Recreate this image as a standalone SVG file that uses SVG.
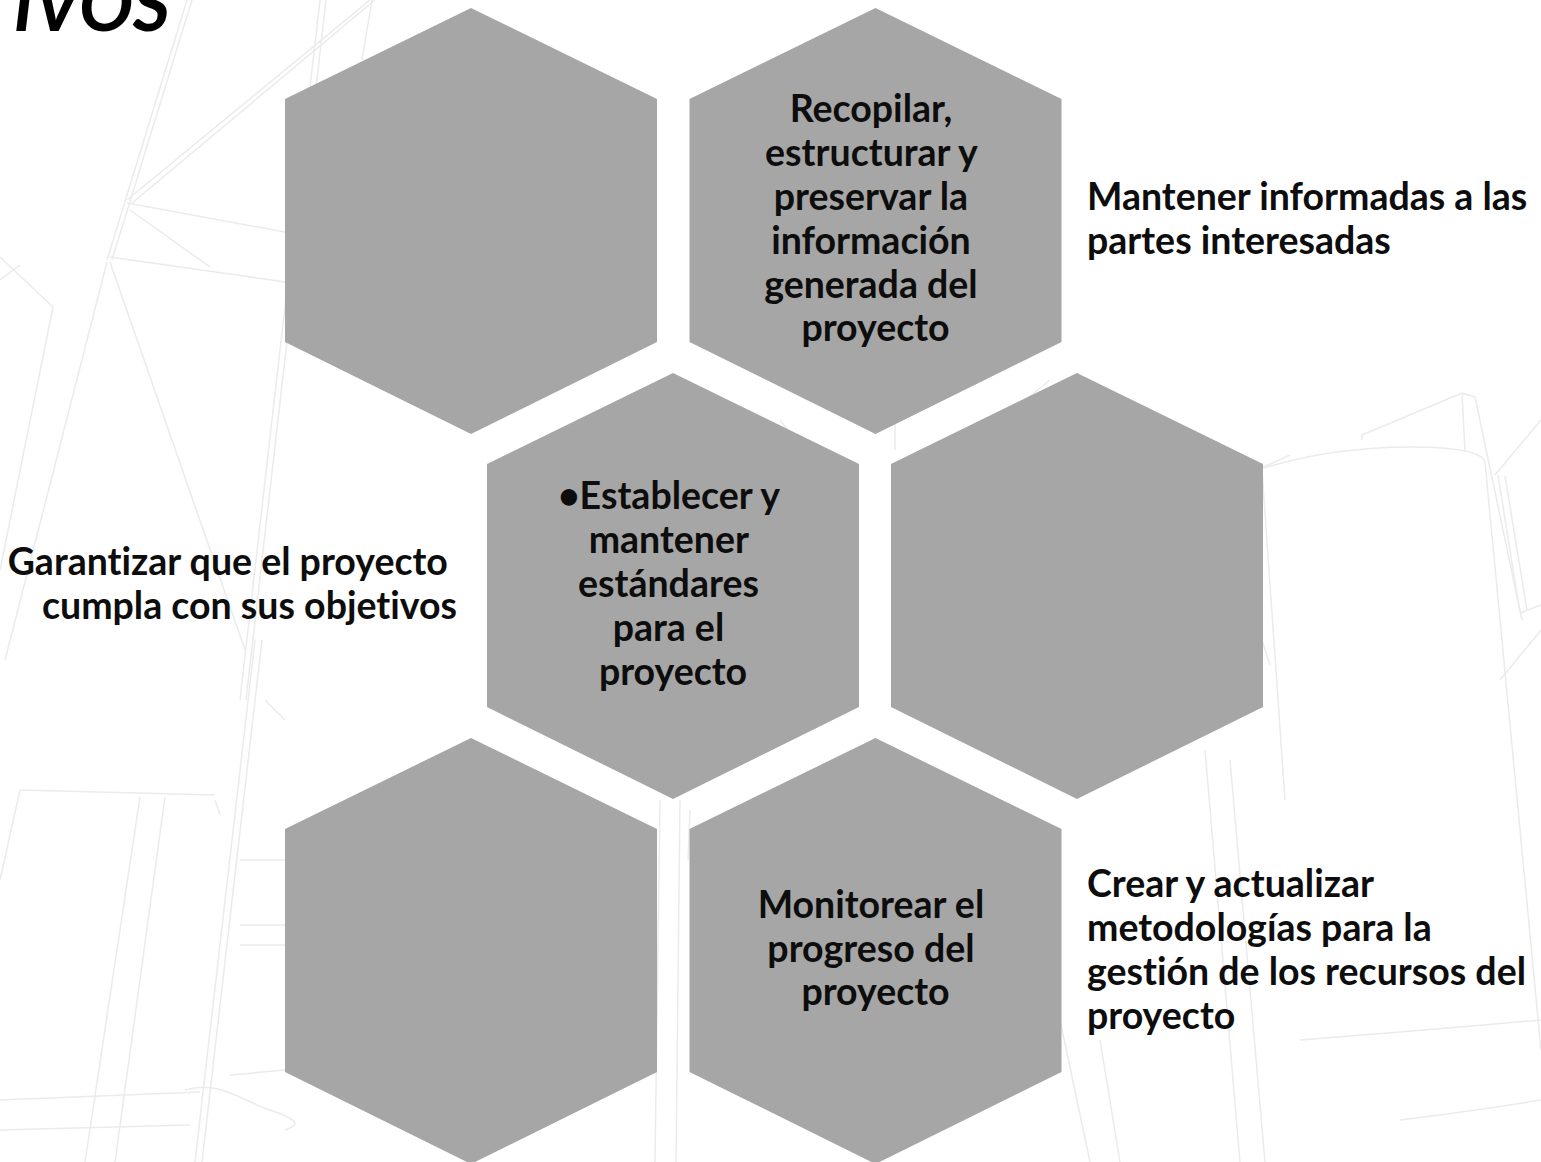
<svg xmlns="http://www.w3.org/2000/svg" width="1541" height="1162" viewBox="0 0 1541 1162">
  <defs>
    <style>
      .hex { fill: #a6a6a6; }
      .bg line, .bg polyline, .bg path { stroke: #ebebec; stroke-width: 1.5; fill: none; }
      .t { font-family: "Lato", "Liberation Sans", sans-serif; font-weight: 700; font-size: 37.5px; fill: #0d0d0d; font-variant-ligatures: none; }
      .c { text-anchor: middle; }
      .r { text-anchor: end; }
      .title { font-family: "Lato", "Liberation Sans", sans-serif; font-weight: 700; font-style: italic; font-size: 72px; fill: #000; text-anchor: end; }
    </style>
    <polygon id="hexShape" points="0,0 186,91 186,334 0,426 -186,334 -186,91"/>
  </defs>
  <rect width="1541" height="1162" fill="#ffffff"/>

  <g class="bg" id="background">
    <line x1="187" y1="0" x2="107" y2="260"/>
    <line x1="192" y1="0" x2="112" y2="260"/>
    <line x1="370" y1="0" x2="127" y2="200"/>
    <line x1="375" y1="0" x2="132" y2="203"/>
    <line x1="372" y1="0" x2="362" y2="60"/>
    <line x1="127" y1="203" x2="285" y2="232"/>
    <line x1="110" y1="257" x2="285" y2="282"/>
    <line x1="130" y1="210" x2="210" y2="267"/>
    <line x1="107" y1="262" x2="5" y2="660"/>
    <line x1="110" y1="262" x2="245" y2="650"/>
    <line x1="0" y1="257" x2="53" y2="307"/>
    <line x1="53" y1="307" x2="0" y2="570"/>
    <line x1="0" y1="280" x2="20" y2="265"/>
    <line x1="320" y1="0" x2="240" y2="700"/>
    <line x1="326" y1="0" x2="246" y2="700"/>
    <line x1="255" y1="640" x2="195" y2="1162"/>
    <line x1="262" y1="640" x2="202" y2="1162"/>
    <line x1="265" y1="700" x2="285" y2="720"/>
    <line x1="20" y1="790" x2="215" y2="795"/>
    <line x1="20" y1="790" x2="0" y2="880"/>
    <line x1="140" y1="797" x2="85" y2="1162"/>
    <line x1="165" y1="797" x2="115" y2="1162"/>
    <line x1="215" y1="800" x2="220" y2="815"/>
    <line x1="0" y1="1100" x2="200" y2="1092"/>
    <line x1="0" y1="1130" x2="190" y2="1125"/>
    <line x1="240" y1="860" x2="285" y2="860"/>
    <line x1="240" y1="925" x2="285" y2="925"/>
    <line x1="240" y1="945" x2="285" y2="945"/>
    <line x1="230" y1="1075" x2="285" y2="1070"/>
    <path d="M185 1090 C 220 1080 240 1100 270 1110 S 300 1125 285 1130"/>
    <line x1="685" y1="430" x2="680" y2="480"/>
    <line x1="700" y1="440" x2="695" y2="470"/>
    <line x1="780" y1="420" x2="810" y2="460"/>
    <line x1="660" y1="800" x2="655" y2="1162"/>
    <line x1="680" y1="800" x2="676" y2="1162"/>
    <line x1="690" y1="810" x2="688" y2="860"/>
    <line x1="860" y1="820" x2="865" y2="845"/>
    <line x1="895" y1="415" x2="895" y2="450"/>
    <line x1="1000" y1="420" x2="1050" y2="380"/>
    <line x1="1257" y1="470" x2="1290" y2="455"/>
    <path d="M1257 470 Q 1330 447 1410 447 Q 1480 447 1485 462"/>
    <line x1="1362" y1="440" x2="1362" y2="435"/>
    <line x1="1362" y1="435" x2="1462" y2="393"/>
    <line x1="1462" y1="393" x2="1465" y2="452"/>
    <line x1="1462" y1="393" x2="1475" y2="397"/>
    <line x1="1475" y1="397" x2="1522" y2="620"/>
    <line x1="1485" y1="462" x2="1541" y2="1050"/>
    <line x1="1495" y1="475" x2="1541" y2="420"/>
    <line x1="1498" y1="475" x2="1520" y2="613"/>
    <line x1="1505" y1="476" x2="1527" y2="610"/>
    <line x1="1520" y1="613" x2="1541" y2="605"/>
    <line x1="1262" y1="470" x2="1285" y2="800"/>
    <line x1="1262" y1="640" x2="1270" y2="665"/>
    <line x1="1205" y1="750" x2="1240" y2="1162"/>
    <line x1="1230" y1="760" x2="1265" y2="1162"/>
    <line x1="1500" y1="680" x2="1541" y2="630"/>
    <path d="M1300 1040 Q 1430 1030 1541 1020"/>
    <path d="M1400 1120 Q 1480 1110 1541 1100"/>
    <line x1="1060" y1="1020" x2="1090" y2="1162"/>
    <line x1="1100" y1="1040" x2="1120" y2="1162"/>
  </g>

  <g id="title">
    <text class="title" x="170" y="31">IVOS</text>
  </g>

  <g id="connectors"></g>

  <g id="hex-top-left">
    <use href="#hexShape" class="hex" transform="translate(471,8)"/>
  </g>

  <g id="hex-top-right">
    <use href="#hexShape" class="hex" transform="translate(875.5,8)"/>
    <text class="t c">
      <tspan x="875.5" y="122">Recopilar,</tspan>
      <tspan x="875.5" y="166">estructurar y</tspan>
      <tspan x="875.5" y="210">preservar la</tspan>
      <tspan x="875.5" y="254">información</tspan>
      <tspan x="875.5" y="298">generada del</tspan>
      <tspan x="875.5" y="341">proyecto</tspan>
    </text>
  </g>

  <g id="hex-middle-left">
    <use href="#hexShape" class="hex" transform="translate(673,373)"/>
    <text class="t c">
      <tspan x="673" y="509">•Establecer y</tspan>
      <tspan x="673" y="553">mantener</tspan>
      <tspan x="673" y="597">estándares</tspan>
      <tspan x="673" y="641">para el</tspan>
      <tspan x="673" y="685">proyecto</tspan>
    </text>
  </g>

  <g id="hex-middle-right">
    <use href="#hexShape" class="hex" transform="translate(1077,373)"/>
  </g>

  <g id="hex-bottom-left">
    <use href="#hexShape" class="hex" transform="translate(471,738)"/>
  </g>

  <g id="hex-bottom-right">
    <use href="#hexShape" class="hex" transform="translate(875.5,738)"/>
    <text class="t c">
      <tspan x="875.5" y="918">Monitorear el</tspan>
      <tspan x="875.5" y="962">progreso del</tspan>
      <tspan x="875.5" y="1005">proyecto</tspan>
    </text>
  </g>

  <g id="label-top-right">
    <text class="t">
      <tspan x="1087" y="210">Mantener informadas a las</tspan>
      <tspan x="1087" y="254">partes interesadas</tspan>
    </text>
  </g>

  <g id="label-middle-left">
    <text class="t r">
      <tspan x="457" y="575">Garantizar que el proyecto</tspan>
      <tspan x="457" y="619">cumpla con sus objetivos</tspan>
    </text>
  </g>

  <g id="label-bottom-right">
    <text class="t">
      <tspan x="1087" y="897">Crear y actualizar</tspan>
      <tspan x="1087" y="941">metodologías para la</tspan>
      <tspan x="1087" y="985">gestión de los recursos del</tspan>
      <tspan x="1087" y="1029">proyecto</tspan>
    </text>
  </g>
</svg>
